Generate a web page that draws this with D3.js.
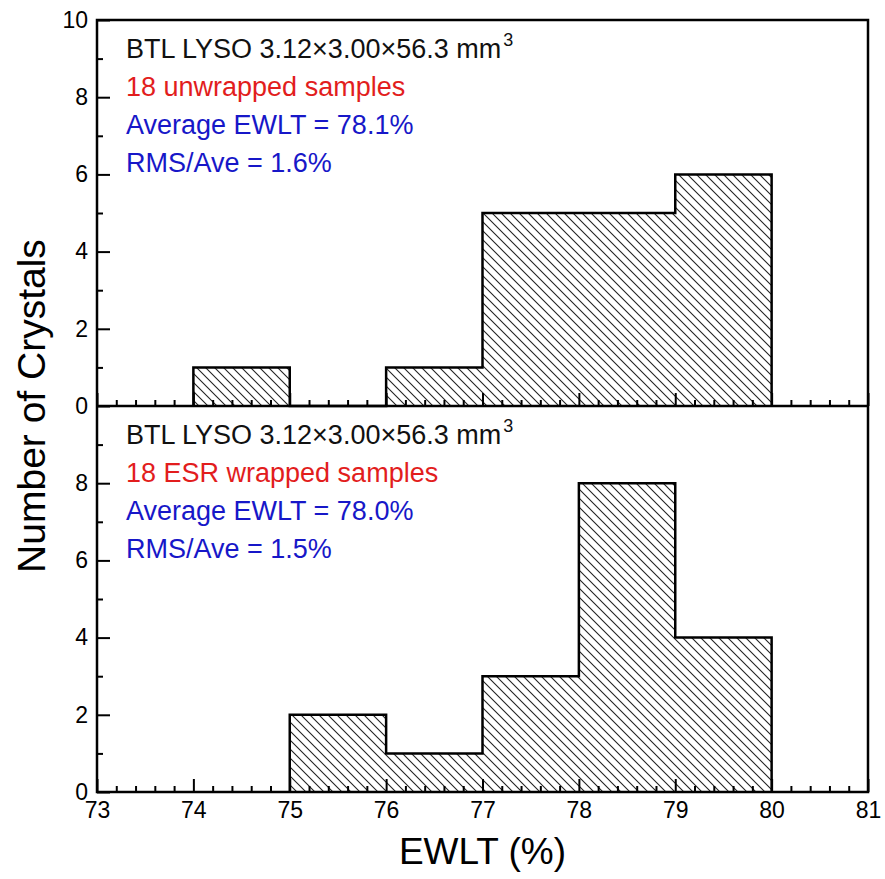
<!DOCTYPE html>
<html>
<head>
<meta charset="utf-8">
<script src="https://cdn.jsdelivr.net/npm/d3@7"></script>
<style>
  body { margin: 0; background: #fff; }
  text { font-family: "Liberation Sans", Arial, sans-serif; }
</style>
</head>
<body>
<svg id="chart" width="885" height="879"></svg>
<script>
// DATA
const binEdgesTop = [74, 75, 76, 77, 78, 79, 80];
const countsTop = [1, 0, 1, 5, 5, 6];
const binEdgesBottom = [75, 76, 77, 78, 79, 80];
const countsBottom = [2, 1, 3, 8, 4];
const xTicks = [73, 74, 75, 76, 77, 78, 79, 80, 81];
const yLabelsTop = [0, 2, 4, 6, 8, 10];
const yLabelsBottom = [0, 2, 4, 6, 8];
const notesTop = [
  'BTL LYSO 3.12\u00d73.00\u00d756.3 mm',
  '18 unwrapped samples',
  'Average EWLT = 78.1%',
  'RMS/Ave = 1.6%',
];
const notesBottom = [
  'BTL LYSO 3.12\u00d73.00\u00d756.3 mm',
  '18 ESR wrapped samples',
  'Average EWLT = 78.0%',
  'RMS/Ave = 1.5%',
];

//SETUP
const svg = d3.select('#chart');
const width = +svg.attr('width');
const height = +svg.attr('height');
const padding = { top: 20, right: 17, bottom: 87, left: 97 };
const panelH = (height - padding.top - padding.bottom) / 2;
const noteColors = ['#111', '#e21d1d', '#1717c8', '#1717c8'];

const defs = svg.append('defs');
const pat = defs
  .append('pattern')
  .attr('id', 'hatch')
  .attr('patternUnits', 'userSpaceOnUse')
  .attr('width', 9)
  .attr('height', 9);
pat
  .append('path')
  .attr('d', 'M-1,-1 L10,10 M-10,-1 L1,10 M8,-1 L19,10')
  .attr('stroke', '#222')
  .attr('stroke-width', 1.1);

const xScale = d3
  .scaleLinear()
  .domain([73, 81])
  .range([padding.left, width - padding.right]);

const minorX = d3.range(73, 81.001, 0.2).filter((v) => Math.abs(v - Math.round(v)) > 0.01);

function drawPanel(top, edges, counts, yLabels, notes, showXLabels) {
  const yScale = d3
    .scaleLinear()
    .domain([0, 10])
    .range([top + panelH, top]);

  // bars as a step outline
  const pts = [[edges[0], 0]];
  counts.forEach((c, i) => pts.push([edges[i], c]));
  pts.push([edges[edges.length - 1], 0]);
  const step = d3
    .line()
    .x((d) => xScale(d[0]))
    .y((d) => yScale(d[1]))
    .curve(d3.curveStepAfter);

  svg
    .append('path')
    .attr('d', step(pts))
    .attr('fill', 'url(#hatch)')
    .attr('stroke', '#000')
    .attr('stroke-width', 2.5)
    .attr('stroke-linejoin', 'miter');

  // y axis
  const yMajor = d3
    .axisLeft(yScale)
    .tickValues(yLabels)
    .tickSize(-13)
    .tickPadding(9);
  const gy = svg
    .append('g')
    .attr('transform', `translate(${padding.left},0)`)
    .call(yMajor);
  const yMinor = d3
    .axisLeft(yScale)
    .tickValues([1, 3, 5, 7, 9])
    .tickSize(-6)
    .tickFormat('');
  const gy2 = svg
    .append('g')
    .attr('transform', `translate(${padding.left},0)`)
    .call(yMinor);

  // x axis
  const xMajor = d3
    .axisBottom(xScale)
    .tickValues(xTicks)
    .tickSize(-13)
    .tickPadding(8)
    .tickFormat(showXLabels ? d3.format('d') : '');
  const gx = svg
    .append('g')
    .attr('transform', `translate(0,${top + panelH})`)
    .call(xMajor);
  const xMinor = d3
    .axisBottom(xScale)
    .tickValues(minorX)
    .tickSize(-6)
    .tickFormat('');
  const gx2 = svg
    .append('g')
    .attr('transform', `translate(0,${top + panelH})`)
    .call(xMinor);

  [gy, gy2, gx, gx2].forEach((g) => {
    g.select('.domain').remove();
    g.selectAll('line').attr('stroke', '#000').attr('stroke-width', 2);
    g.selectAll('text')
      .attr('fill', '#000')
      .style('font-size', '23px')
      .style('font-family', '"Liberation Sans", Arial, sans-serif');
  });
  gx.selectAll('text').attr('dy', '0.8em');

  // annotations
  notes.forEach((t, i) => {
    const txt = svg
      .append('text')
      .attr('x', 126)
      .attr('y', top + 38 + i * 38)
      .attr('fill', noteColors[i])
      .style('font-size', '27px')
      .text(t);
    if (i === 0) {
      txt
        .append('tspan')
        .attr('dx', 2)
        .attr('dy', -12)
        .style('font-size', '18px')
        .text('3');
    }
  });
}

drawPanel(padding.top, binEdgesTop, countsTop, yLabelsTop, notesTop, false);
drawPanel(padding.top + panelH, binEdgesBottom, countsBottom, yLabelsBottom, notesBottom, true);

// FRAME
svg
  .append('rect')
  .attr('x', padding.left)
  .attr('y', padding.top)
  .attr('width', width - padding.left - padding.right)
  .attr('height', height - padding.top - padding.bottom)
  .attr('fill', 'none')
  .attr('stroke', '#000')
  .attr('stroke-width', 2.5);
svg
  .append('line')
  .attr('x1', padding.left)
  .attr('x2', width - padding.right)
  .attr('y1', padding.top + panelH)
  .attr('y2', padding.top + panelH)
  .attr('stroke', '#000')
  .attr('stroke-width', 2.5);

// AXIS TITLES
svg
  .append('text')
  .attr('transform', 'rotate(-90)')
  .attr('x', -(padding.top + panelH))
  .attr('y', 45)
  .style('text-anchor', 'middle')
  .style('font-size', '39px')
  .text('Number of Crystals');

svg
  .append('text')
  .attr('x', (padding.left + width - padding.right) / 2)
  .attr('y', 864)
  .style('text-anchor', 'middle')
  .style('font-size', '37px')
  .text('EWLT (%)');
</script>
</body>
</html>
